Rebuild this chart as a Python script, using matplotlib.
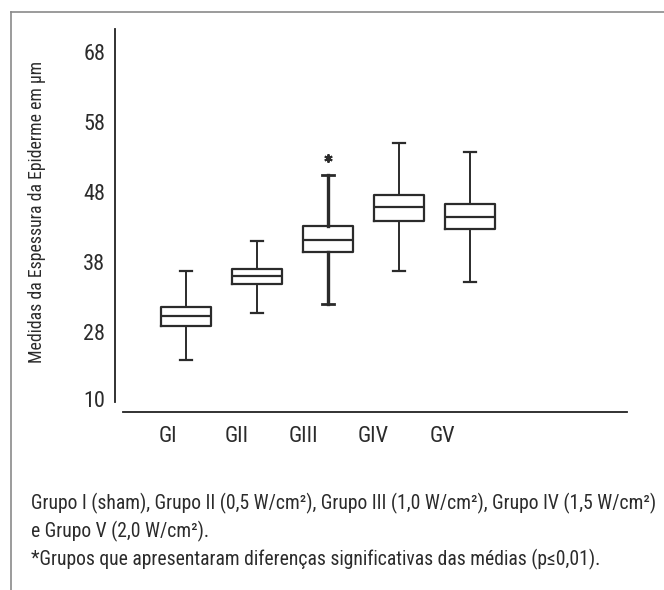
import matplotlib
matplotlib.use("Agg")
import matplotlib.pyplot as plt
from matplotlib.lines import Line2D

plt.rcParams['font.family'] = ['Roboto Condensed', 'Roboto', 'DejaVu Sans']

groups = ["GI", "GII", "GIII", "GIV", "GV"]
whis_low = [24.0, 30.7, 32.0, 36.7, 35.1]
q1 = [28.9, 34.8, 39.4, 43.9, 42.7]
medians = [30.3, 36.0, 41.1, 45.8, 44.4]
q3 = [31.5, 37.0, 43.2, 47.6, 46.3]
whis_high = [36.7, 41.0, 50.4, 55.0, 53.7]
outliers = [[], [], [52.9], [], []]

ytick_pos = [18.4, 28, 38, 48, 58, 68]
ytick_labels = ["10", "28", "38", "48", "58", "68"]
label_pos = [0.75, 1.72, 2.66, 3.63, 4.61]

caption = ("Grupo I (sham), Grupo II (0,5 W/cm²), Grupo III (1,0 W/cm²), Grupo IV (1,5 W/cm²)\n"
           "e Grupo V (2,0 W/cm²).\n"
           "*Grupos que apresentaram diferenças significativas das médias (p≤0,01).")

fig = plt.figure(figsize=(6.64, 5.9), dpi=100)
ax = fig.add_axes([115/664, 1 - 412/590, 512/664, 383/590])

stats = []
for i in range(len(groups)):
    stats.append({"whislo": whis_low[i], "q1": q1[i], "med": medians[i],
                  "q3": q3[i], "whishi": whis_high[i], "fliers": outliers[i]})

ink = "#2b2b2b"
bp = ax.bxp(stats, positions=range(1, len(groups) + 1), widths=0.70, capwidths=0.17,
            boxprops=dict(color=ink, linewidth=1.6),
            medianprops=dict(color=ink, linewidth=1.6),
            whiskerprops=dict(color=ink, linewidth=1.4),
            capprops=dict(color=ink, linewidth=1.6),
            flierprops=dict(marker=(6, 2, 0), markersize=6, markeredgecolor=ink,
                            markeredgewidth=1.4, linestyle="none"))
# GIII whiskers are drawn heavier in the original
for w in bp["whiskers"][4:6]:
    w.set_linewidth(2.4)
for c in bp["caps"][4:6]:
    c.set_linewidth(2.0)

ax.set_xlim(0, 7.21)
ax.set_ylim(16.571, 71.286)
ax.spines["top"].set_visible(False)
ax.spines["right"].set_visible(False)
ax.spines["left"].set_bounds(18.0, 71.286)
ax.spines["bottom"].set_bounds(0.113, 7.21)
for s in ["left", "bottom"]:
    ax.spines[s].set_color("#222222")
    ax.spines[s].set_linewidth(1.3)

ax.set_yticks(ytick_pos)
ax.set_yticklabels(ytick_labels)
ax.set_xticks(label_pos)
ax.set_xticklabels(groups)
ax.tick_params(axis="both", length=0, labelsize=16, colors="#2b2b2b")
ax.tick_params(axis="y", pad=7)
ax.tick_params(axis="x", pad=10)

fig.text(37/664, 1 - 212/590, "Medidas da Espessura da Epiderme em µm", rotation=90,
         ha="center", va="center", fontsize=12.8, color="#2b2b2b")

fig.text(31/664, 1 - 493/590, caption, ha="left", va="top", fontsize=14.1,
         color="#2b2b2b", linespacing=1.43)

# grey frame (top and left only)
fig.add_artist(Line2D([11/664, 1.0], [1 - 12/590, 1 - 12/590], transform=fig.transFigure,
                      color="#8a8a8a", linewidth=1.2))
fig.add_artist(Line2D([11/664, 11/664], [1 - 12/590, 0.0], transform=fig.transFigure,
                      color="#8a8a8a", linewidth=1.2))

fig.savefig("out.png", dpi=100)
